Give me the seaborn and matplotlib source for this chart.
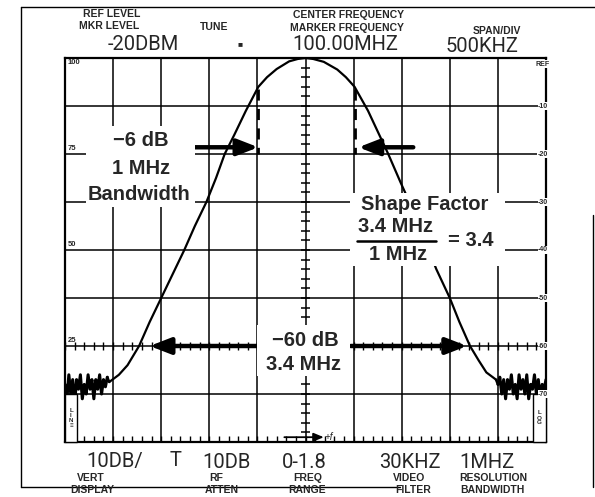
import numpy as np
import pandas as pd
import matplotlib
matplotlib.use("Agg")
import matplotlib.pyplot as plt
from matplotlib.patches import Rectangle
from matplotlib.lines import Line2D
import seaborn as sns

# ---------------- data ----------------
# frequency offset from the 100.00 MHz centre, MHz ; level relative to REF, dB
noise_left_f = [-2.50, -2.48, -2.46, -2.44, -2.42, -2.40, -2.38, -2.36, -2.34, -2.32,
                -2.30, -2.28, -2.26, -2.24, -2.22, -2.20, -2.18, -2.16, -2.14, -2.12,
                -2.10, -2.08, -2.06]
noise_left_db = [-68, -71, -66, -70, -67, -72, -67, -69, -66, -71,
                 -68, -70, -66, -69, -67, -71, -67, -69, -66, -70,
                 -67, -68.5, -66.5]
curve_left_f = [-2.04, -1.94, -1.85, -1.73, -1.62, -1.50, -1.38, -1.26, -1.15, -1.03,
                -0.93, -0.84, -0.74, -0.62, -0.49, -0.40, -0.30, -0.17, -0.08, 0.0]
curve_left_db = [-67.5, -66, -64, -60, -55, -50, -45, -40, -35, -30,
                 -25, -20, -16, -11, -6, -4, -2.3, -0.7, -0.2, 0.0]
curve_right_f = [0.08, 0.19, 0.33, 0.42, 0.51, 0.65, 0.79, 0.86, 0.99, 1.08,
                 1.22, 1.36, 1.50, 1.60, 1.71, 1.80, 1.88, 1.98]
curve_right_db = [-0.2, -0.8, -2.4, -4, -6, -11, -17, -20, -26, -30,
                  -37, -44, -50, -55, -60, -63, -65.5, -67]
noise_right_f = [2.00, 2.02, 2.04, 2.06, 2.08, 2.10, 2.12, 2.14, 2.16, 2.18,
                 2.20, 2.22, 2.24, 2.26, 2.28, 2.30, 2.32, 2.34, 2.36, 2.38,
                 2.40, 2.42, 2.44, 2.46, 2.48, 2.50]
noise_right_db = [-68, -66.5, -70, -67, -71, -67, -69, -66, -70, -68,
                  -71, -66, -69, -67, -70, -66, -71, -68, -69, -66,
                  -70, -67, -71, -68, -69, -67]

bw6_edges = [-0.49, 0.51]        # -6 dB points (1 MHz bandwidth)
bw60_edges = [-1.62, 1.68]       # -60 dB arrow tips (3.4 MHz)

right_scale = ["REF", "-10", "-20", "-30", "-40", "-50", "-60", "-70"]
right_scale_db = [0, -10, -20, -30, -40, -50, -60, -70]
left_scale = ["100", "75", "50", "25"]
left_scale_db = [0, -20, -40, -60]

# ---------------- figure ----------------
sns.set_style("white")
plt.rcParams["font.family"] = ["Liberation Sans", "DejaVu Sans"]

W, H = 595, 497
fig = plt.figure(figsize=(W / 100, H / 100), dpi=100)
fig.patch.set_facecolor("white")


def fx(x):
    return x / W


def fy(y):
    return 1 - y / H


L, R, T, B = 65, 546, 58, 442
ax = fig.add_axes([fx(L), fy(B), (R - L) / W, (B - T) / H])
ax.set_xlim(-2.5, 2.5)
ax.set_ylim(-80, 0)
ax.set_xticks(np.arange(-2.5, 2.51, 0.5))
ax.set_yticks(np.arange(-80, 0.1, 10))
ax.grid(True, color="black", lw=1.1)
ax.tick_params(length=0, labelbottom=False, labelleft=False)
for s in ax.spines.values():
    s.set_color("black")
    s.set_linewidth(1.6)

# graticule minor ticks
ax.hlines(np.arange(-80, 0, 2), -0.045, 0.045, color="black", lw=1.1)
ax.vlines(np.arange(-2.5, 2.5, 0.1), -80, -78.7, color="black", lw=1.0)
ax.vlines(np.arange(-2.5, 2.5, 0.1), -60.9, -59.1, color="black", lw=1.0)

# trace
noise_l = pd.DataFrame({"f": noise_left_f, "db": noise_left_db})
main = pd.DataFrame({"f": curve_left_f + curve_right_f, "db": curve_left_db + curve_right_db})
noise_r = pd.DataFrame({"f": noise_right_f, "db": noise_right_db})
sns.lineplot(data=main, x="f", y="db", sort=False, color="black", lw=1.6, ax=ax, zorder=3)
sns.lineplot(data=noise_l, x="f", y="db", sort=False, color="black", lw=2.2, ax=ax, zorder=3)
sns.lineplot(data=noise_r, x="f", y="db", sort=False, color="black", lw=2.2, ax=ax, zorder=3)
ax.plot([noise_left_f[-1], curve_left_f[0]], [noise_left_db[-1], curve_left_db[0]], color="black", lw=1.8)
ax.plot([curve_right_f[-1], noise_right_f[0]], [curve_right_db[-1], noise_right_db[0]], color="black", lw=1.8)
ax.set_xlabel("")
ax.set_ylabel("")

# -6 dB markers
for xm in bw6_edges:
    ax.plot([xm, xm], [-6.5, -20], color="black", lw=2.0, ls=(0, (4, 3)), zorder=3)

# white masks behind the annotation text blocks (pixel layout)
for (x0, y0, x1, y1) in [(86, 126, 195, 207), (350, 193, 505, 266), (257, 325, 350, 376)]:
    fig.patches.append(Rectangle((fx(x0), fy(y1)), (x1 - x0) / W, (y1 - y0) / H,
                                 transform=fig.transFigure, facecolor="white",
                                 edgecolor="none", zorder=5))

# arrows
ap = dict(arrowstyle="-|>,head_length=0.9,head_width=0.35", color="black", lw=3.2,
          mutation_scale=14, shrinkA=0, shrinkB=0)
ax.annotate("", xy=(bw6_edges[0], -18.6), xytext=(-1.16, -18.6), arrowprops=ap, zorder=6)
ax.annotate("", xy=(bw6_edges[1] + 0.04, -18.6), xytext=(1.12, -18.6), arrowprops=ap, zorder=6)
ax.annotate("", xy=(bw60_edges[0], -60), xytext=(-0.51, -60), arrowprops=ap, zorder=6)
ax.annotate("", xy=(bw60_edges[1], -60), xytext=(0.47, -60), arrowprops=ap, zorder=6)
ax.annotate("", xy=(0.19, -79.0), xytext=(-0.22, -79.0),
            arrowprops=dict(arrowstyle="-|>,head_length=0.6,head_width=0.25", color="black",
                            lw=1.3, mutation_scale=10, shrinkA=0, shrinkB=0))
fig.text(fx(329), fy(437), "+f", fontsize=7, style="italic", ha="center", va="center")

# annotation text
big = dict(fontsize=14.5, fontweight="bold", ha="center", va="center", zorder=7,
           family=["Liberation Sans", "DejaVu Sans"])
fig.text(fx(141), fy(141), "\u22126 dB", **big)
fig.text(fx(141), fy(168), "1 MHz", **big)
fig.text(fx(139), fy(195), "Bandwidth", **big)
fig.text(fx(425), fy(204), "Shape Factor", **big)
fig.text(fx(396), fy(227), "3.4 MHz", **big)
fig.text(fx(398), fy(254), "1 MHz", **big)
fig.text(fx(471), fy(240), "= 3.4", **big)
fig.lines.append(Line2D([fx(357), fx(436)], [fy(241), fy(241)], transform=fig.transFigure,
                        color="black", lw=1.8, zorder=7))
fig.text(fx(305), fy(340), "\u221260 dB", **big)
fig.text(fx(304), fy(365), "3.4 MHz", **big)

# side scales
for lab, d in zip(right_scale, right_scale_db):
    yy = T + (-d) * (B - T) / 80
    fig.text(fx(543), fy(yy + (6 if d == 0 else 0)), lab, fontsize=5, fontweight="bold",
             ha="center", va="center", zorder=8,
             bbox=dict(facecolor="white", edgecolor="none", pad=0.3))
for lab, d in zip(left_scale, left_scale_db):
    yy = T + (-d) * (B - T) / 80
    fig.text(fx(68), fy(yy + (5 if d == 0 else -6)), lab, fontsize=5.5, fontweight="bold",
             ha="left", va="center", zorder=8)

# LIN / LOG boxes
for x0, x1, lab in [(65, 77, "L\nI\nN\n\u2261"), (533, 546, "L\nO\nG")]:
    fig.patches.append(Rectangle((fx(x0), fy(442)), (x1 - x0) / W, (442 - 394) / H,
                                 transform=fig.transFigure, facecolor="white",
                                 edgecolor="black", lw=1.0, zorder=4))
    fig.text(fx((x0 + x1) / 2), fy(418), lab, fontsize=4.5, fontweight="bold",
             ha="center", va="center", linespacing=1.0, zorder=8)

# header / footer (instrument readouts)
disp = dict(family=["Roboto", "DejaVu Sans"], fontsize=14.5,
            ha="center", va="center")
lab = dict(fontsize=7.5, fontweight="bold", ha="center", va="center")
fig.text(fx(112), fy(14), "REF LEVEL", **lab)
fig.text(fx(109), fy(26), "MKR LEVEL", **lab)
fig.text(fx(143), fy(45), "-20DBM", **disp)
fig.text(fx(214), fy(27), "TUNE", **lab)
fig.text(fx(240), fy(45), "\u25a0", fontsize=6, ha="center", va="center")
fig.text(fx(349), fy(15), "CENTER FREQUENCY", **lab)
fig.text(fx(347), fy(28), "MARKER FREQUENCY", **lab)
fig.text(fx(345), fy(45), "100.00MHZ", **disp)
fig.text(fx(497), fy(31), "SPAN/DIV", **lab)
fig.text(fx(482), fy(47), "500KHZ", **disp)

fig.text(fx(115), fy(462), "10DB/", **disp)
fig.text(fx(176), fy(461), "T", **disp)
fig.text(fx(227), fy(462), "10DB", **disp)
fig.text(fx(304), fy(462), "0-1.8", **disp)
fig.text(fx(410), fy(462), "30KHZ", **disp)
fig.text(fx(487), fy(462), "1MHZ", **disp)
fig.text(fx(91), fy(478), "VERT", **lab)
fig.text(fx(92), fy(490), "DISPLAY", **lab)
fig.text(fx(216), fy(478), "RF", **lab)
fig.text(fx(222), fy(490), "ATTEN", **lab)
fig.text(fx(308), fy(478), "FREQ", **lab)
fig.text(fx(307), fy(490), "RANGE", **lab)
fig.text(fx(409), fy(478), "VIDEO", **lab)
fig.text(fx(413), fy(490), "FILTER", **lab)
fig.text(fx(493), fy(478), "RESOLUTION", **lab)
fig.text(fx(492), fy(490), "BANDWIDTH", **lab)

# outer frame
frame = [((21, 7), (595, 7)), ((21, 7), (21, 487)), ((21, 487), (400, 487)), ((593, 215), (593, 487))]
for (a, b) in frame:
    fig.lines.append(Line2D([fx(a[0]), fx(b[0])], [fy(a[1]), fy(b[1])],
                            transform=fig.transFigure, color="black", lw=1.0))

fig.savefig("out.png", dpi=100)
